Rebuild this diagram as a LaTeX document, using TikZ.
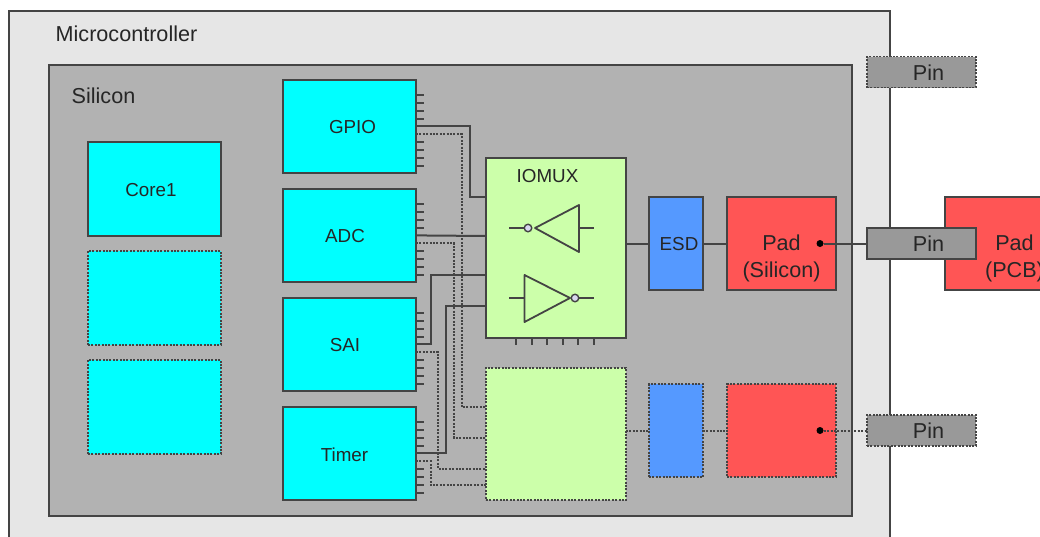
\documentclass[tikz,border=0pt]{standalone}
\usepackage{fontspec}
\setmainfont{Liberation Sans}
\usepackage[]{xcolor}
\usetikzlibrary{positioning,calc}
\definecolor{edge}{HTML}{444444}
\definecolor{ink}{HTML}{262626}
\definecolor{chipgray}{HTML}{E6E6E6}
\definecolor{silicongray}{HTML}{B2B2B2}
\definecolor{pingray}{HTML}{999999}
\definecolor{blockcyan}{HTML}{00FFFF}
\definecolor{muxgreen}{HTML}{CCFFAA}
\definecolor{esdblue}{HTML}{5599FF}
\definecolor{padred}{HTML}{FF5555}

\begin{document}
\begin{tikzpicture}[
            x=1pt, y=-1pt,
            node distance=16pt,
            box/.style={rectangle, draw=edge, line width=1.8pt, inner sep=0pt, outer sep=0pt, align=center, text=ink, font=\fontsize{18.8}{23}\selectfont},
            ghost/.style={dash pattern=on 2pt off 1.4pt},
            block/.style={box, fill=blockcyan, minimum width=133pt, minimum height=93pt},
            mux/.style={box, fill=muxgreen, minimum width=140pt},
            esd/.style={box, fill=esdblue, minimum width=54pt, minimum height=93pt},
            pad/.style={box, fill=padred, minimum width=109pt, minimum height=93pt},
            pin/.style={box, fill=pingray, minimum width=109pt, minimum height=31pt, font=\fontsize{21.8}{26}\selectfont},
            caption/.style={inner sep=0pt, text=ink, align=center, font=\fontsize{21.6}{27.5}\selectfont},
            tag/.style={inner sep=0pt, text=ink, font=\fontsize{18.8}{23}\selectfont},
            wire/.style={draw=edge, line width=2pt},
            gate/.style={draw=edge, line width=1.8pt, line join=round},
            bubble/.style={circle, draw=edge, fill=silicongray!70!blue!30, line width=1.4pt, minimum size=7.5pt, inner sep=0pt},
            dot/.style={circle, fill=black, minimum size=7pt, inner sep=0pt}
        ]
            \clip (0,0) rectangle (1040,536);

            \node[box, fill=chipgray, minimum width=881pt, minimum height=549pt] (chip) at (449.5,285.5) {};
            \node[box, fill=silicongray, minimum width=803pt, minimum height=451pt] (silicon) at (450.5,290.5) {};
            \node[caption] (chiplabel) at (126.5,34) {Microcontroller};
            \node[caption] (siliconlabel) at (103.5,96) {Silicon};

            % left column
            \node[block, minimum height=94pt] (core1) at (154.5,189) {};
            \node[block, ghost, minimum height=94pt, below=15pt of core1] (core2) {};
            \node[block, ghost, minimum height=94pt, below=15pt of core2] (core3) {};
            \node[tag] (corelabel) at (151,190) {Core1};

            % peripherals
            \node[block] (GPIO) at (349.5,126.5) {};
            \node[block, below=of GPIO] (ADC) {};
            \node[block, below=of ADC] (SAI) {};
            \node[block, below=of SAI] (Timer) {};
            \node[tag] (gpiolabel) at (352.5,127.5) {GPIO};
            \node[tag] (adclabel) at (345,236.5) {ADC};
            \node[tag] (sailabel) at (345,345.5) {SAI};
            \node[tag] (timerlabel) at (344.5,454.5) {Timer};

            \foreach \b in {GPIO,ADC,SAI,Timer} {
                \foreach \i in {1,...,10} {
                    \coordinate (\b-\i) at ($(\b.north east)+(0,{15+(\i-1)*7.85})$);
                }
                \foreach \i in {1,2,3,4,7,8,9,10} {
                    \draw[wire] (\b-\i) -- ++(7.5,0);
                }
            }

            % IOMUX inputs
            \coordinate (in1) at (486,197);
            \coordinate (in2) at (486,236);
            \coordinate (in3) at (486,275);
            \coordinate (in4) at (486,306);
            \coordinate (in5) at (486,407);
            \coordinate (in6) at (486,438);
            \coordinate (in7) at (486,469);
            \coordinate (in8) at (486,485);

            \draw[wire] (GPIO-5) -- ++(53.5,0) |- (in1);
            \draw[wire] (ADC-5) -- (in2);
            \draw[wire] (SAI-5) -- ++(14.5,0) |- (in3);
            \draw[wire] (Timer-5) -- ++(29.5,0) |- (in4);
            \draw[wire, ghost] (GPIO-6) -- ++(45.5,0) |- (in5);
            \draw[wire, ghost] (ADC-6) -- ++(38,0) |- (in6);
            \draw[wire, ghost] (SAI-6) -- ++(22,0) |- (in7);
            \draw[wire, ghost] (Timer-6) -- ++(14.5,0) |- (in8);

            % upper channel
            \node[mux, minimum height=180pt] (IOMUX) at (556,248) {};
            \node[tag] (muxlabel) at (547.5,176) {IOMUX};
            \foreach \x in {516,531.6,547.2,562.8,578.4,594} {
                \draw[wire] (\x,338) -- (\x,345);
            }
            \node[esd] (ESD) at (676,243.5) {};
            \node[tag] (esdlabel) at (679,244.5) {ESD};
            \node[pad] (pad1) at (781.5,243.5) {};
            \node[caption] (padlabel1) at (781.5,258.5) {Pad\\(Silicon)};
            \node[pad, minimum width=139pt] (pad2) at (1014.5,243.5) {};
            \node[caption] (padlabel2) at (1014.5,258.5) {Pad\\(PCB)};
            \node[dot] (dot1) at (820,243.5) {};
            \node[pin] (pin1) at (921.5,243.5) {};
            \node[pin, ghost] (pin0) at (921.5,72) {};
            \node[caption] (pinlabel1) at (928.5,244) {Pin};
            \node[caption] (pinlabel0) at (928.5,73) {Pin};

            \draw[wire] (IOMUX.east |- ESD.west) -- (ESD.west);
            \draw[wire] (ESD.east) -- (pad1.west);
            \draw[wire] (dot1) -- (pin1.west);

            % inverters
            \draw[gate] (535,228) -- (579,205) -- (579,252) -- cycle;
            \draw[gate] (509,228) -- (524,228);
            \draw[gate] (579,228) -- (594,228);
            \node[bubble] (inv1) at (528,228) {};
            \draw[gate] (524.5,275) -- (570,298) -- (524.5,322) -- cycle;
            \draw[gate] (509,298) -- (524.5,298);
            \draw[gate] (579,298) -- (594,298);
            \node[bubble] (inv2) at (575,298) {};

            % lower channel
            \node[mux, ghost, minimum height=132pt] (mux2) at (556,434) {};
            \node[esd, ghost] (esd2) at (676,430.5) {};
            \node[pad, ghost] (pad3) at (781.5,430.5) {};
            \node[dot] (dot2) at (820,430.5) {};
            \node[pin, ghost] (pin2) at (921.5,430.5) {};
            \node[caption] (pinlabel2) at (928.5,431) {Pin};

            \draw[wire, ghost] (mux2.east |- esd2.west) -- (esd2.west);
            \draw[wire, ghost] (esd2.east) -- (pad3.west);
            \draw[wire, ghost] (dot2) -- (pin2.west);
        \end{tikzpicture}
\end{document}
